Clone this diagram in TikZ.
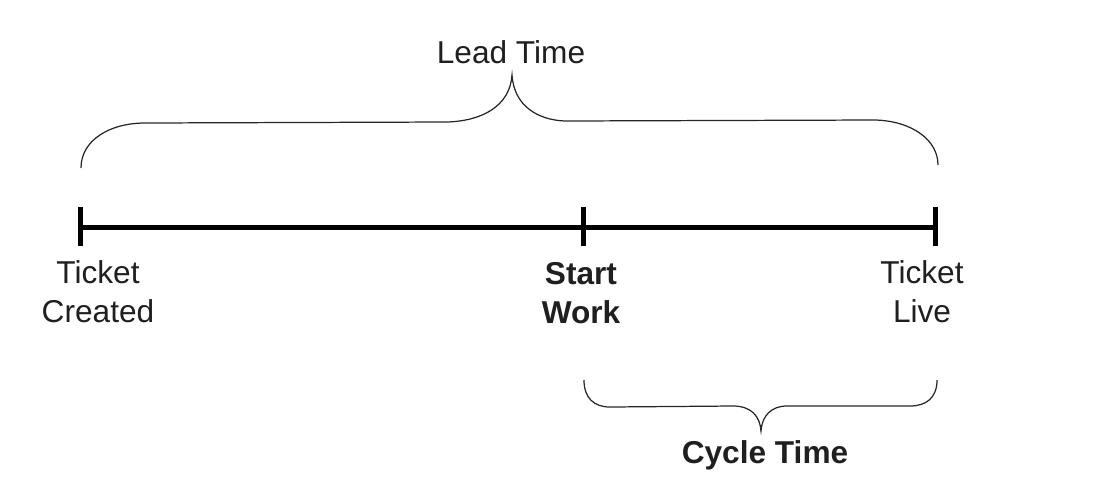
\documentclass[tikz,border=0pt]{standalone}
\usepackage{fontspec}
\setmainfont{Liberation Sans}
\usetikzlibrary{positioning}
\tikzstyle{timeLine} = [line width=0.1cm, draw=black]
\tikzstyle{tickMark} = [line width=0.1cm, draw=black]
\tikzstyle{braceLine} = [line width=0.7pt, draw=black!85]
\tikzstyle{labNode} = [align=center, inner sep=0pt, anchor=base, text=black!88, font=\fontsize{18}{22}\selectfont]
\tikzstyle{labNodeB} = [labNode, font=\fontsize{18}{22}\selectfont\bfseries]

\begin{document}
\begin{tikzpicture}[x=0.02cm, y=-0.02cm]
        \useasboundingbox (0,0) rectangle (1102,488);

        % points on the time line
        \coordinate (created) at (80,227);
        \coordinate (start) at (583,227);
        \coordinate (live) at (935,227);

        \draw [timeLine] (created) -- (start) -- (live);
        \draw [tickMark] ([yshift=0.4cm]created) -- ([yshift=-0.38cm]created);
        \draw [tickMark] ([yshift=0.4cm]start) -- ([yshift=-0.38cm]start);
        \draw [tickMark] ([yshift=0.4cm]live) -- ([yshift=-0.38cm]live);

        % base anchor sits on the last line
        \node (createdLab) [labNode] at (98,322) {Ticket\\Created};
        \node (startLab) [labNodeB] at (581,323) {Start\\Work};
        \node (liveLab) [labNode] at (922,322) {Ticket\\Live};

        % braces
        \coordinate (leadTip) at (512,75);
        \coordinate (cycleTip) at (761,431);
        \draw [braceLine] (81,168) .. controls (81,140) and (110,123) .. (145,123)
            -- (447,122) .. controls (482,121) and (510,106) .. (leadTip)
            .. controls (514,106) and (538,120) .. (565,121)
            -- (875,120) .. controls (912,121) and (938,140) .. (938,165);
        \draw [braceLine] (584,380) .. controls (584,398) and (594,407) .. (610,407)
            -- (733,406) .. controls (751,406) and (760,416) .. (cycleTip)
            .. controls (762,416) and (771,406) .. (787,406)
            -- (910,406) .. controls (926,406) and (937,398) .. (937,380);

        \node (leadLab) [labNode] at (511,63) {Lead Time};
        \node (cycleLab) [labNodeB] at (765,463) {Cycle Time};
    \end{tikzpicture}
\end{document}
